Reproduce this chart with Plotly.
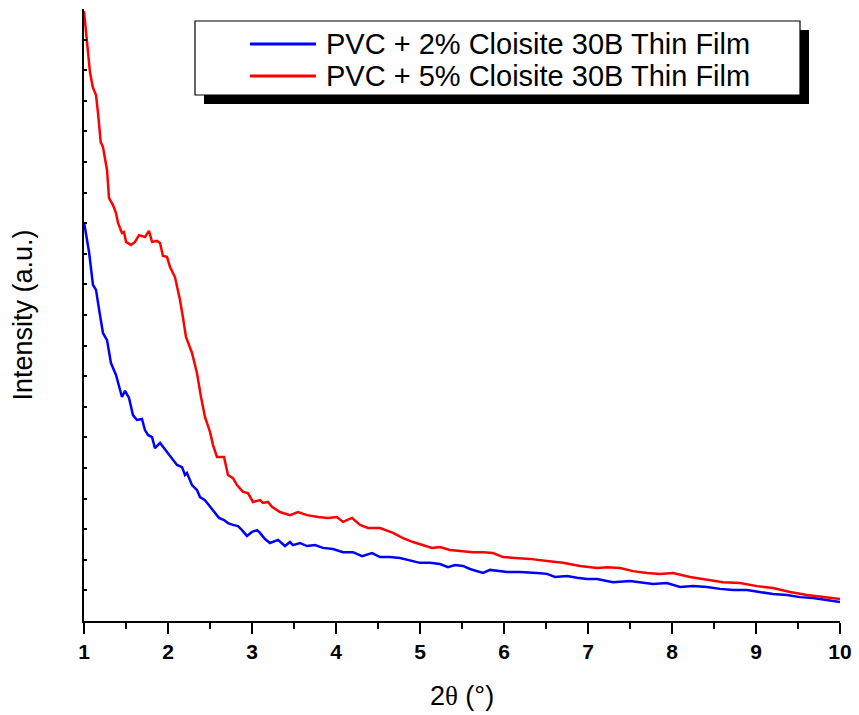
import plotly.graph_objects as go

# ---------------- data ----------------
red_x = [1.000, 1.032, 1.071, 1.104, 1.143, 1.167, 1.199, 1.226, 1.250, 1.274, 1.298, 1.345,
         1.381, 1.405, 1.452, 1.476, 1.500, 1.560, 1.607, 1.655, 1.726, 1.774, 1.810, 1.869,
         1.905, 1.940, 1.988, 2.024, 2.083, 2.143, 2.179, 2.214, 2.286, 2.345, 2.393, 2.440,
         2.500, 2.536, 2.583, 2.667, 2.714, 2.774, 2.821, 2.893, 2.952, 3.012, 3.095, 3.131,
         3.190, 3.238, 3.333, 3.452, 3.548, 3.655, 3.786, 3.905, 4.012, 4.083, 4.190, 4.286,
         4.381, 4.524, 4.679, 4.798, 4.917, 5.036, 5.143, 5.238, 5.357, 5.476, 5.631, 5.750,
         5.869, 5.988, 6.155, 6.310, 6.512, 6.702, 6.905, 7.107, 7.226, 7.381, 7.536, 7.702,
         7.857, 8.012, 8.214, 8.417, 8.607, 8.810, 9.012, 9.202, 9.405, 9.607, 9.798, 10.000]
red_y = [19.93, 18.99, 17.94, 17.45, 17.19, 16.60, 15.65, 15.49, 15.07, 14.74, 13.82, 13.59,
         13.33, 13.01, 12.68, 12.71, 12.39, 12.29, 12.39, 12.61, 12.55, 12.75, 12.39, 12.42,
         12.35, 11.93, 11.90, 11.57, 11.24, 10.49, 9.90, 9.28, 8.76, 8.10, 7.32, 6.67,
         6.18, 5.75, 5.36, 5.36, 4.77, 4.67, 4.44, 4.22, 4.18, 3.89, 3.95, 3.86,
         3.89, 3.73, 3.56, 3.46, 3.56, 3.46, 3.40, 3.37, 3.40, 3.24, 3.37, 3.14,
         3.04, 3.04, 2.88, 2.71, 2.58, 2.48, 2.39, 2.42, 2.32, 2.29, 2.25, 2.25,
         2.22, 2.09, 2.06, 2.03, 1.96, 1.90, 1.80, 1.73, 1.76, 1.73, 1.63, 1.57,
         1.54, 1.57, 1.44, 1.34, 1.27, 1.24, 1.14, 1.08, 0.95, 0.85, 0.78, 0.72]

blue_x = [1.000, 1.036, 1.060, 1.107, 1.143, 1.190, 1.226, 1.274, 1.321, 1.381, 1.417, 1.452,
          1.488, 1.536, 1.583, 1.631, 1.690, 1.726, 1.762, 1.810, 1.845, 1.905, 1.952, 1.988,
          2.048, 2.107, 2.167, 2.202, 2.226, 2.286, 2.345, 2.381, 2.440, 2.476, 2.536, 2.607,
          2.667, 2.714, 2.774, 2.833, 2.881, 2.940, 3.000, 3.060, 3.095, 3.155, 3.214, 3.310,
          3.393, 3.452, 3.488, 3.571, 3.655, 3.750, 3.845, 3.964, 4.083, 4.202, 4.310, 4.429,
          4.524, 4.643, 4.762, 4.881, 5.000, 5.119, 5.238, 5.333, 5.417, 5.512, 5.595, 5.750,
          5.833, 6.036, 6.190, 6.393, 6.512, 6.607, 6.750, 6.869, 6.988, 7.107, 7.298, 7.500,
          7.619, 7.774, 7.940, 8.095, 8.250, 8.417, 8.571, 8.726, 8.893, 9.048, 9.202, 9.369,
          9.524, 9.679, 9.845, 10.000]
blue_y = [13.04, 12.39, 12.06, 10.98, 10.82, 10.00, 9.41, 9.18, 8.43, 8.04, 7.65, 7.32,
          7.52, 7.29, 6.73, 6.57, 6.60, 6.24, 6.08, 6.01, 5.65, 5.82, 5.65, 5.52,
          5.33, 5.10, 5.03, 4.77, 4.84, 4.44, 4.28, 4.05, 3.95, 3.82, 3.63, 3.37,
          3.30, 3.20, 3.14, 3.10, 2.97, 2.78, 2.91, 2.97, 2.88, 2.68, 2.55, 2.65,
          2.45, 2.58, 2.48, 2.55, 2.45, 2.48, 2.39, 2.35, 2.25, 2.25, 2.12, 2.22,
          2.09, 2.09, 2.06, 1.99, 1.90, 1.90, 1.86, 1.76, 1.83, 1.80, 1.70, 1.57,
          1.67, 1.60, 1.60, 1.57, 1.54, 1.44, 1.47, 1.41, 1.37, 1.37, 1.27, 1.31,
          1.27, 1.21, 1.24, 1.11, 1.14, 1.11, 1.05, 1.01, 1.01, 0.95, 0.88, 0.85,
          0.78, 0.75, 0.69, 0.62]

series_names = ["PVC + 2% Cloisite 30B Thin Film", "PVC + 5% Cloisite 30B Thin Film"]
series_colors = ["#0000FF", "#FF0000"]
x_ticks = [1, 2, 3, 4, 5, 6, 7, 8, 9, 10]

# ---------------- layout geometry (pixels) ----------------
W, H = 859, 715
L, R, T, B = 84, 19, 9, 94
PW, PH = W - L - R, H - T - B


def px(xp):
    return (xp - L) / PW


def py(yp):
    return (H - B - yp) / PH


fig = go.Figure()
fig.add_trace(go.Scatter(x=blue_x, y=blue_y, mode="lines", name=series_names[0],
                         line=dict(color=series_colors[0], width=2.5), showlegend=False))
fig.add_trace(go.Scatter(x=red_x, y=red_y, mode="lines", name=series_names[1],
                         line=dict(color=series_colors[1], width=2.5), showlegend=False))

# legend drawn by hand (box with drop shadow)
shapes = [
    dict(type="rect", xref="paper", yref="paper", x0=px(204), x1=px(809), y0=py(104), y1=py(30),
         fillcolor="black", line=dict(width=0), layer="above"),
    dict(type="rect", xref="paper", yref="paper", x0=px(195), x1=px(800), y0=py(95), y1=py(21),
         fillcolor="white", line=dict(color="black", width=1.2), layer="above"),
]
annotations = []
for i, (nm, col) in enumerate(zip(series_names, series_colors)):
    yc = 44 + i * 32
    shapes.append(dict(type="line", xref="paper", yref="paper", x0=px(250), x1=px(316),
                       y0=py(yc), y1=py(yc), line=dict(color=col, width=3), layer="above"))
    annotations.append(dict(xref="paper", yref="paper", x=px(324), y=py(yc), text=nm,
                            showarrow=False, xanchor="left", yanchor="middle",
                            font=dict(family="Liberation Sans, Arial", size=29, color="black")))

fig.update_layout(
    width=W, height=H,
    margin=dict(l=L, r=R, t=T, b=B, autoexpand=False),
    paper_bgcolor="white", plot_bgcolor="white",
    shapes=shapes, annotations=annotations,
    font=dict(family="Liberation Sans, Arial", color="black"),
    xaxis=dict(
        range=[1, 10], tickvals=x_ticks, ticks="outside", ticklen=11, tickwidth=2,
        tickcolor="black", showline=True, linecolor="black", linewidth=2,
        showgrid=False, zeroline=False, mirror=False,
        tickfont=dict(family="Liberation Sans, Arial", size=21, weight="bold", color="black"),
        minor=dict(dtick=0.5, ticks="outside", ticklen=6, tickwidth=2, tickcolor="black",
                   showgrid=False),
        title=dict(text="2<span style=\"font-family:'Liberation Serif'\">θ</span> (°)",
                   font=dict(size=27, family="Liberation Sans, Arial"), standoff=24),
        automargin=False,
    ),
    yaxis=dict(
        range=[0, 20], dtick=1, ticks="inside", ticklen=3, tickwidth=1.5, tickcolor="black",
        showticklabels=False, showline=True, linecolor="black", linewidth=2,
        showgrid=False, zeroline=False,
        title=dict(text="Intensity (a.u.)", font=dict(size=27, family="Liberation Sans, Arial"),
                   standoff=42),
        automargin=False,
    ),
)

fig.write_html("out.html")
